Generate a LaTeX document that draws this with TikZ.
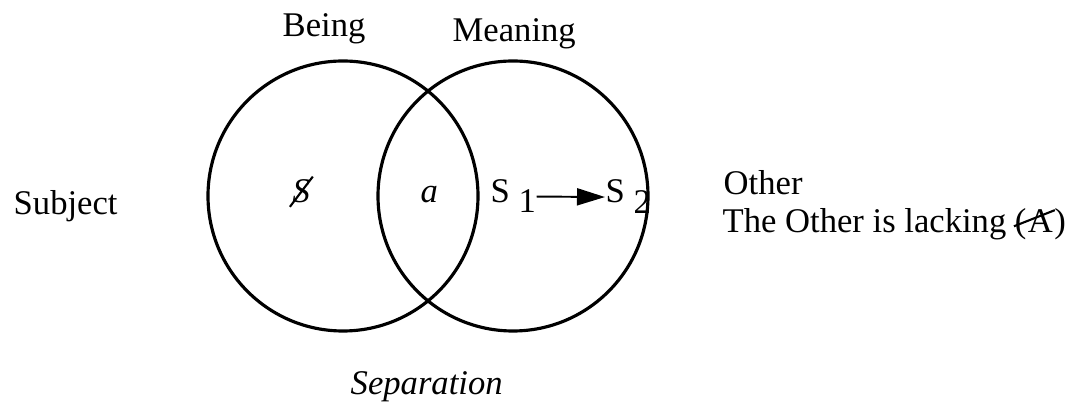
\documentclass[tikz,border=0pt]{standalone}
\usepackage{fontspec}
\setmainfont{Liberation Serif}
\usepackage{tikz}
\usetikzlibrary{arrows.meta,calc}
\tikzset{
  >={Triangle[length=2.8mm, width=1.7mm]},
  lbl/.style={inner sep=0pt, anchor=base west, font=\fontsize{9.85pt}{12pt}\selectfont},
  ring/.style={line width=0.9pt},
  tachar/.style={line width=0.6pt, shorten <=-1pt, shorten >=-1pt},
  flecha/.style={->, line width=0.55pt},
}

\begin{document}
\begin{tikzpicture}
  \useasboundingbox (0,0) rectangle (10.7,4.1);
  \coordinate (cB) at (3.43,2.14);
  \coordinate (cM) at (5.13,2.14);
  \draw[ring] (cB) circle (1.35);
  \draw[ring] (cM) circle (1.35);
  \node[lbl] (being) at (2.82,3.73) {Being};
  \node[lbl] (meaning) at (4.52,3.68) {Meaning};
  \node[lbl] (subject) at (0.13,1.95) {Subject};
  \node[lbl] (sbar) at (2.92,2.07) {\itshape S};
  \draw[tachar] (sbar.south west) -- (sbar.north east);
  \node[lbl] (objA) at (4.20,2.07) {\itshape a};
  \node[lbl] (sone) at (4.90,2.07) {S \raisebox{-1mm}{1}};
  \node[lbl] (stwo) at (6.05,2.07) {S \raisebox{-1.1mm}{2}};
  \draw[flecha] (sone.east) -- (stwo.west);
  \node[lbl] (other) at (7.23,2.15) {Other};
  \node[lbl] (lack) at (7.22,1.77) {The Other is lacking (};
  \node[lbl] (bigA) at (lack.base east) {A};
  \node[lbl] (rpar) at (bigA.base east) {)};
  \draw[tachar] ($(bigA.base west)+(-0.1,0.08)$) -- ($(bigA.north east)+(-0.02,-0.02)$);
  \node[lbl] (separation) at (3.50,0.15) {\itshape Separation};
\end{tikzpicture}
\end{document}
